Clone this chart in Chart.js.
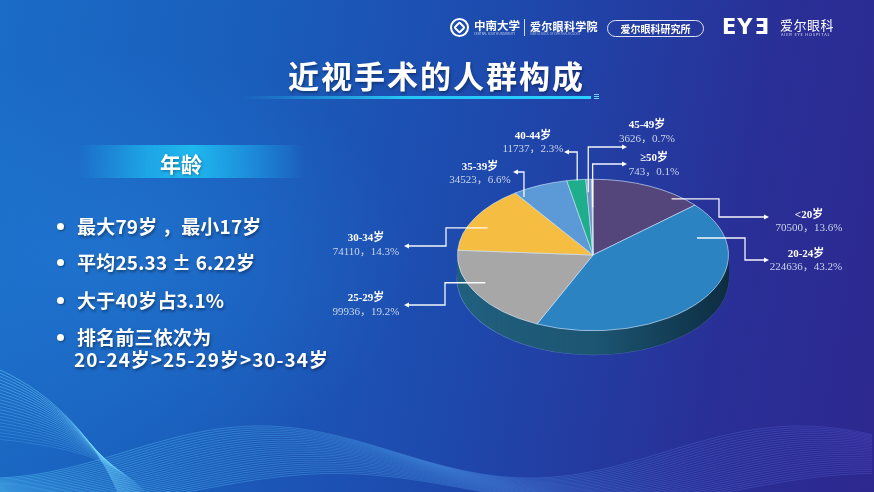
<!DOCTYPE html>
<html lang="zh-CN">
<head>
    <meta charset="UTF-8">
    <title>近视手术的人群构成</title>
    <script src="https://cdn.jsdelivr.net/npm/chart.js"></script>
    <style>
        body {
            margin: 0;
            font-family: "Noto Sans CJK SC", sans-serif;
        }

        #slide {
            position: relative;
            width: 874px;
            height: 492px;
            overflow: hidden;
            color: #fff;
            background:
                radial-gradient(ellipse 420px 300px at 120px 260px, rgba(40,140,230,0.35), rgba(40,140,230,0) 70%),
                linear-gradient(100deg, #1a6cc6 0%, #1a5dbb 28%, #1e48ac 55%, #292f96 82%, #2d2890 100%);
        }

        .abs { position: absolute; white-space: nowrap; }

        .title {
            left: 288px; top: 55px;
            font-size: 31px; font-weight: 700; line-height: 40px;
            letter-spacing: 2px;
            text-shadow: 1px 2px 3px rgba(0,0,0,0.35);
        }

        .title-bar {
            left: 240px; top: 96px; width: 351px; height: 3px;
            background: linear-gradient(90deg, rgba(40,200,245,0), #25c4f4 45%, #2ad0ff);
        }

        .banner {
            left: 78px; top: 145px; width: 228px; height: 33px;
            background: linear-gradient(90deg, rgba(30,180,240,0) 0%, rgba(30,185,240,0.75) 30%, #1fb8ee 50%, rgba(30,170,235,0.6) 75%, rgba(30,160,230,0) 100%);
        }

        .banner-text {
            left: 160px; top: 149px;
            font-size: 21px; font-weight: 700; line-height: 28px;
            text-shadow: 1px 1px 3px rgba(0,0,0,0.35);
        }

        .bullet {
            left: 77px;
            font-size: 19px; font-weight: 700; line-height: 24px;
            letter-spacing: 0.2px;
            text-shadow: 1px 2px 3px rgba(0,0,0,0.4);
        }

        .dot {
            width: 7px; height: 7px; border-radius: 50%;
            background: #fff; left: 57px;
            box-shadow: 1px 1px 2px rgba(0,0,0,0.4);
        }

        .pill {
            left: 607px; top: 20px; width: 95px; height: 15px;
            border: 1px solid rgba(255,255,255,0.85); border-radius: 9px;
            font-size: 10px; line-height: 15px; text-align: center; font-weight: 700;
        }

        canvas { position: absolute; left: 0; top: 0; }
    </style>
</head>
<body>
<div id="slide">
    <canvas id="waves" width="874" height="492"></canvas>

    <!-- 顶部标识 -->
    <div class="abs" style="left:450px;top:18px;width:15px;height:15px;border:2px solid #fff;border-radius:50%;"></div>
    <div class="abs" style="left:455px;top:23px;width:5px;height:5px;border:2px solid #fff;border-radius:2px;transform:rotate(45deg);"></div>
    <div class="abs" style="left:474px;top:17px;font-size:11.5px;font-weight:700;">中南大学</div>
    <div class="abs" style="left:474px;top:32px;font-size:3px;opacity:0.7;">CENTRAL SOUTH UNIVERSITY</div>
    <div class="abs" style="left:524px;top:19px;width:1px;height:17px;background:rgba(255,255,255,0.8);"></div>
    <div class="abs" style="left:530px;top:18px;font-size:11px;font-weight:700;letter-spacing:0.3px;">爱尔眼科学院</div>
    <div class="abs" style="left:530px;top:32px;font-size:3px;opacity:0.6;">AIER SCHOOL OF OPHTHALMOLOGY</div>
    <div class="abs pill">爱尔眼科研究所</div>
    <div class="abs" style="left:722px;top:15px;font-family:'DejaVu Sans';font-weight:700;font-size:21px;letter-spacing:1px;">EY<span style="display:inline-block;transform:scaleX(-1);">E</span></div>
    <div class="abs" style="left:780px;top:15px;font-size:13px;letter-spacing:0.5px;">爱尔眼科</div>
    <div class="abs" style="left:781px;top:31px;font-size:4px;letter-spacing:0.8px;opacity:0.8;">AIER EYE HOSPITAL</div>

    <!-- 标题 -->
    <div class="abs title">近视手术的人群构成</div>
    <div class="abs title-bar"></div>
    <div class="abs" style="left:594px;top:94px;width:5px;height:1px;background:#6fd6ff;box-shadow:0 2px 0 #6fd6ff,0 4px 0 #6fd6ff;"></div>

    <!-- 左侧说明 -->
    <div class="abs banner"></div>
    <div class="abs banner-text">年龄</div>

    <div class="abs dot" style="top:223px;"></div>
    <div class="abs bullet" style="top:214px;">最大79岁 ，最小17岁</div>
    <div class="abs dot" style="top:259px;"></div>
    <div class="abs bullet" style="top:250px;">平均25.33 ± 6.22岁</div>
    <div class="abs dot" style="top:297px;"></div>
    <div class="abs bullet" style="top:288px;">大于40岁占3.1%</div>
    <div class="abs dot" style="top:334px;"></div>
    <div class="abs bullet" style="top:325px;">排名前三依次为</div>
    <div class="abs bullet" style="top:347px;left:74px;letter-spacing:1px;">20-24岁&gt;25-29岁&gt;30-34岁</div>

    <canvas id="pie" width="874" height="492"></canvas>
</div>

<script>
    // 数据
    const ageLabels = ['<20岁', '20-24岁', '25-29岁', '30-34岁', '35-39岁', '40-44岁', '45-49岁', '≥50岁'];
    const ageCounts = [70500, 224636, 99936, 74110, 34523, 11737, 3626, 743];
    const agePercents = ['13.6%', '43.2%', '19.2%', '14.3%', '6.6%', '2.3%', '0.7%', '0.1%'];

    // 样式
    const sliceColors = ['#54457a', '#2b83c2', '#a7a7a7', '#f5be42', '#5b9ad6', '#1fae8c', '#6f93c4', '#dcdcdc'];
    const sideColor = '#21607f';

    // 标签引线布局 (t: 扇区内位置, r: 半径比例)
    const labelLayout = [
        { t: 0.78, r: 0.94, elbowX: 719, lineY: 217, arrowX: 767, tx: 809, ny: 215, vy: 228 },
        { t: 0.16, r: 0.80, elbowX: 745, lineY: 260, arrowX: 767, tx: 806, ny: 254, vy: 267 },
        { t: 0.59, r: 0.875, elbowX: 445, lineY: 305, arrowX: 406, tx: 366, ny: 298, vy: 312 },
        { t: 0.41, r: 0.856, elbowX: 446, lineY: 246, arrowX: 406, tx: 366, ny: 238, vy: 252 },
        { t: 0.06, r: 0.92, lineY: 172, arrowX: 515, tx: 480, ny: 167, vy: 180 },
        { t: 0.54, r: 0.99, lineY: 152, arrowX: 566, tx: 533, ny: 136, vy: 149 },
        { t: 0.24, r: 0.83, lineY: 147, arrowX: 625, tx: 647, ny: 125, vy: 139 },
        { t: 0.5, r: 0.63, lineY: 164, arrowX: 625, tx: 654, ny: 158, vy: 172 }
    ];

    const tilt = 0.559;
    const depth = 24;

    // 背景波浪线
    const wv = document.getElementById('waves').getContext('2d');
    for (let i = 0; i < 22; i++) {
        wv.beginPath();
        wv.moveTo(0, 370 + i * 3.3);
        wv.bezierCurveTo(55 + i, 395 + i * 2.5, 95 + i, 440 + i, 118 + i * 1.3, 492);
        wv.strokeStyle = 'rgba(120,220,255,' + (0.6 - i * 0.018) + ')';
        wv.lineWidth = 0.8;
        wv.stroke();
    }
    for (let i = 0; i < 26; i++) {
        const g = wv.createLinearGradient(0, 0, 874, 0);
        g.addColorStop(0, 'rgba(100,215,255,0.6)');
        g.addColorStop(0.45, 'rgba(90,190,255,0.38)');
        g.addColorStop(1, 'rgba(120,120,255,0.3)');
        wv.beginPath();
        for (let x = 0; x <= 874; x += 4) {
            const y = 452 + i * 1.5 - (26 - i * 0.4) * Math.cos(2 * Math.PI * (x - 260 - i * 3) / 540);
            if (x === 0) wv.moveTo(x, y); else wv.lineTo(x, y);
        }
        wv.strokeStyle = g;
        wv.lineWidth = 0.7;
        wv.stroke();
    }

    // 3D 饼图插件: 先画侧面, 再把顶面压扁
    const pie3d = {
        id: 'pie3d',
        beforeDatasetsDraw(chart) {
            const ctx = chart.ctx;
            const arcs = chart.getDatasetMeta(0).data;
            const cx = arcs[0].x, cy = arcs[0].y, R = arcs[0].outerRadius;
            ctx.save();
            // 侧面边缘的浅色细线
            ctx.save();
            ctx.translate(cx, cy + depth);
            ctx.scale(1, tilt);
            ctx.beginPath();
            ctx.arc(0, 0, R + 1, 0, Math.PI * 2);
            ctx.fillStyle = 'rgba(140,190,225,0.45)';
            ctx.fill();
            ctx.restore();
            for (let d = depth; d >= 1; d--) {
                ctx.save();
                ctx.translate(cx, cy + d);
                ctx.scale(1, tilt);
                arcs.forEach((a) => {
                    ctx.beginPath();
                    ctx.moveTo(0, 0);
                    ctx.arc(0, 0, R, a.startAngle, a.endAngle);
                    ctx.closePath();
                    ctx.fillStyle = sideColor;
                    ctx.fill();
                });
                ctx.restore();
            }
            ctx.globalCompositeOperation = 'source-atop';
            const g = ctx.createLinearGradient(cx - R, 0, cx + R, 0);
            g.addColorStop(0, 'rgba(0,0,0,0)');
            g.addColorStop(0.5, 'rgba(0,15,30,0.12)');
            g.addColorStop(1, 'rgba(0,10,25,0.6)');
            ctx.fillStyle = g;
            ctx.fillRect(cx - R - 4, cy - R, 2 * R + 8, 2 * R);
            ctx.restore();

            ctx.save();
            ctx.translate(cx, cy);
            ctx.scale(1, tilt);
            ctx.translate(-cx, -cy);
        },
        afterDatasetsDraw(chart) {
            const ctx = chart.ctx;
            ctx.restore();

            const arcs = chart.getDatasetMeta(0).data;
            ctx.save();
            arcs.forEach((a, i) => {
                const L = labelLayout[i];
                const ang = a.startAngle + L.t * (a.endAngle - a.startAngle);
                const px = a.x + Math.cos(ang) * a.outerRadius * L.r;
                const py = a.y + Math.sin(ang) * a.outerRadius * L.r * tilt;

                ctx.strokeStyle = 'rgba(255,255,255,0.95)';
                ctx.lineWidth = 1.3;
                ctx.beginPath();
                ctx.moveTo(px, py);
                let lastX;
                if (L.elbowX !== undefined) {
                    ctx.lineTo(L.elbowX, py);
                    ctx.lineTo(L.elbowX, L.lineY);
                    lastX = L.elbowX;
                } else {
                    ctx.lineTo(px, L.lineY);
                    lastX = px;
                }
                ctx.lineTo(L.arrowX, L.lineY);
                ctx.stroke();

                const dir = Math.sign(L.arrowX - lastX);
                ctx.fillStyle = '#fff';
                ctx.beginPath();
                ctx.moveTo(L.arrowX + dir * 2, L.lineY);
                ctx.lineTo(L.arrowX - dir * 3, L.lineY - 2.5);
                ctx.lineTo(L.arrowX - dir * 3, L.lineY + 2.5);
                ctx.closePath();
                ctx.fill();

                ctx.textAlign = 'center';
                ctx.textBaseline = 'middle';
                ctx.fillStyle = '#ffffff';
                ctx.font = 'bold 11px "Liberation Serif", "Noto Sans CJK SC"';
                ctx.fillText(ageLabels[i], L.tx, L.ny);
                ctx.fillStyle = '#c9d4ea';
                ctx.font = '11px "Liberation Serif", "Noto Sans CJK SC"';
                ctx.fillText(ageCounts[i] + '，' + agePercents[i], L.tx, L.vy);
            });
            ctx.restore();
        }
    };

    new Chart(document.getElementById('pie'), {
        type: 'pie',
        data: {
            labels: ageLabels,
            datasets: [{
                data: ageCounts,
                backgroundColor: sliceColors,
                borderColor: 'rgba(215,232,255,0.8)',
                borderWidth: 1,
                hoverOffset: 0
            }]
        },
        options: {
            responsive: false,
            animation: false,
            events: [],
            layout: { padding: { left: 457, right: 145, top: 119, bottom: 101 } },
            plugins: {
                legend: { display: false },
                tooltip: { enabled: false }
            }
        },
        plugins: [pie3d]
    });
</script>
</body>
</html>
